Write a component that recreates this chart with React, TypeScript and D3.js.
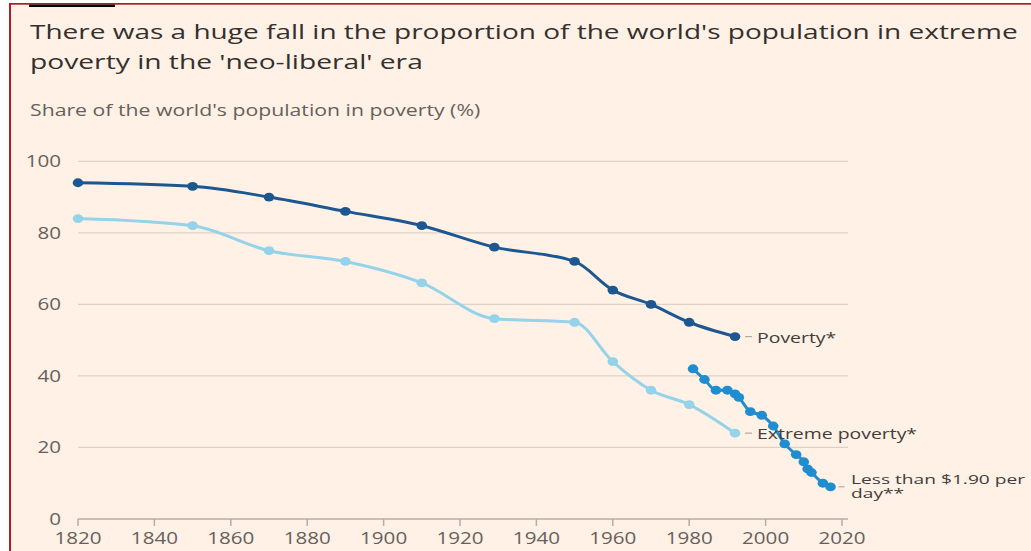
import React from "react";
import * as d3 from "d3";

// ---- Data ----
const histYears = [1820, 1850, 1870, 1890, 1910, 1929, 1950, 1960, 1970, 1980, 1992];
const povertyValues = [94, 93, 90, 86, 82, 76, 72, 64, 60, 55, 51];
const extremeValues = [84, 82, 75, 72, 66, 56, 55, 44, 36, 32, 24];
const wbYears = [1981, 1984, 1987, 1990, 1992, 1993, 1996, 1999, 2002, 2005, 2008, 2010, 2011, 2012, 2015, 2017];
const wbValues = [42, 39, 36, 36, 35, 34, 30, 29, 26, 21, 18, 16, 14, 13, 10, 9];
const xTicks = [1820, 1840, 1860, 1880, 1900, 1920, 1940, 1960, 1980, 2000, 2020];
const yTicks = [0, 20, 40, 60, 80, 100];

const titleLines = [
  "There was a huge fall in the proportion of the world's population in extreme",
  "poverty in the 'neo-liberal' era",
];
const subtitle = "Share of the world's population in poverty (%)";
const wbLabel = ["Less than $1.90 per", "day**"];

const W = 1031;
const H = 551;
const FONT = "'Open Sans', 'DejaVu Sans', sans-serif";

const x = d3.scaleLinear().domain([1820, 2020]).range([78, 842]);
const y = d3.scaleLinear().domain([0, 100]).range([519, 161.3]);

type Pt = [number, number];
const zip = (a: number[], b: number[]): Pt[] => a.map((v, i) => [v, b[i]]);

const line = d3
  .line<Pt>()
  .x((d) => x(d[0]))
  .y((d) => y(d[1]))
  .curve(d3.curveMonotoneX);

const series = [
  { name: "Poverty*", pts: zip(histYears, povertyValues), color: "#1d5792" },
  { name: "Extreme poverty*", pts: zip(histYears, extremeValues), color: "#94d3ea" },
  { name: "wb", pts: zip(wbYears, wbValues), color: "#1f8dd0" },
];

function T(props: {
  x: number;
  y: number;
  size: number;
  fill: string;
  sx: number;
  anchor?: string;
  children: React.ReactNode;
}) {
  return (
    <text
      transform={`translate(${props.x},${props.y}) scale(${props.sx},1)`}
      fontSize={props.size}
      fill={props.fill}
      textAnchor={props.anchor || "start"}
      fontFamily={FONT}
    >
      {props.children}
    </text>
  );
}

export default function App() {
  const gridColor = "#ddd2c8";
  const tickColor = "#66605c";
  const textDark = "#33302e";
  const labelColor = "#423d3a";
  const leader = "#b3aaa2";
  const pLast = series[0].pts[series[0].pts.length - 1];
  const eLast = series[1].pts[series[1].pts.length - 1];
  const wLast = series[2].pts[series[2].pts.length - 1];
  return (
    <svg
      width={W}
      height={H}
      style={{ position: "absolute", left: 0, top: 0, display: "block" }}
    >
      <rect x={0} y={0} width={W} height={H} fill="#ffffff" />
      <rect x={9} y={3} width={W - 9} height={H - 3} fill="#fff1e5" />
      <rect x={9} y={3} width={W - 9} height={1.7} fill="#b01c22" />
      <rect x={9} y={3} width={2} height={H - 3} fill="#b01c22" />
      <rect x={29} y={4.6} width={86} height={2.4} fill="#000000" />

      {/* Title */}
      <T x={30} y={38.5} size={20} sx={1.4} fill={textDark}>{titleLines[0]}</T>
      <T x={30} y={68.5} size={20} sx={1.41} fill={textDark}>{titleLines[1]}</T>
      <T x={30} y={115.5} size={15.5} sx={1.37} fill="#66605c">{subtitle}</T>

      {/* Grid */}
      {yTicks.filter((t) => t > 0).map((t) => (
        <line key={t} x1={78} x2={848} y1={y(t)} y2={y(t)} stroke={gridColor} strokeWidth={1.2} />
      ))}
      {yTicks.map((t) => (
        <T key={"yl" + t} x={61} y={y(t) + 6} size={15.5} sx={1.33} fill={tickColor} anchor="end">
          {t}
        </T>
      ))}

      {/* X axis */}
      <line x1={78} x2={848} y1={y(0)} y2={y(0)} stroke="#b5aca4" strokeWidth={1.5} />
      {xTicks.map((t) => (
        <g key={"xt" + t}>
          <line x1={x(t)} x2={x(t)} y1={y(0)} y2={y(0) + 7} stroke="#b5aca4" strokeWidth={1.5} />
          <T x={x(t)} y={543.5} size={15.5} sx={1.33} fill={tickColor} anchor="middle">
            {t}
          </T>
        </g>
      ))}

      {/* Series */}
      {series.map((s) => (
        <g key={s.name}>
          <path d={line(s.pts) || ""} fill="none" stroke={s.color} strokeWidth={3} strokeLinejoin="round" />
          {s.pts.map((p, i) => (
            <ellipse key={i} cx={x(p[0])} cy={y(p[1])} rx={5.3} ry={4.4} fill={s.color} />
          ))}
        </g>
      ))}

      {/* Labels */}
      <line x1={x(pLast[0]) + 10} x2={x(pLast[0]) + 17} y1={y(pLast[1])} y2={y(pLast[1])} stroke={leader} strokeWidth={1.2} />
      <T x={x(pLast[0]) + 22} y={y(pLast[1]) + 6} size={14.5} sx={1.34} fill={labelColor}>Poverty*</T>

      <line x1={x(eLast[0]) + 10} x2={x(eLast[0]) + 17} y1={y(eLast[1])} y2={y(eLast[1])} stroke={leader} strokeWidth={1.2} />
      <T x={x(eLast[0]) + 22} y={y(eLast[1]) + 6} size={14.5} sx={1.34} fill={labelColor}>Extreme poverty*</T>

      <line x1={x(wLast[0]) + 8} x2={x(wLast[0]) + 14} y1={y(wLast[1])} y2={y(wLast[1])} stroke={leader} strokeWidth={1.2} />
      <T x={x(wLast[0]) + 20.5} y={483.5} size={13.5} sx={1.42} fill={labelColor}>
        <tspan x={0} dy={0}>{wbLabel[0]}</tspan>
        <tspan x={0} dy={15}>{wbLabel[1]}</tspan>
      </T>
    </svg>
  );
}
